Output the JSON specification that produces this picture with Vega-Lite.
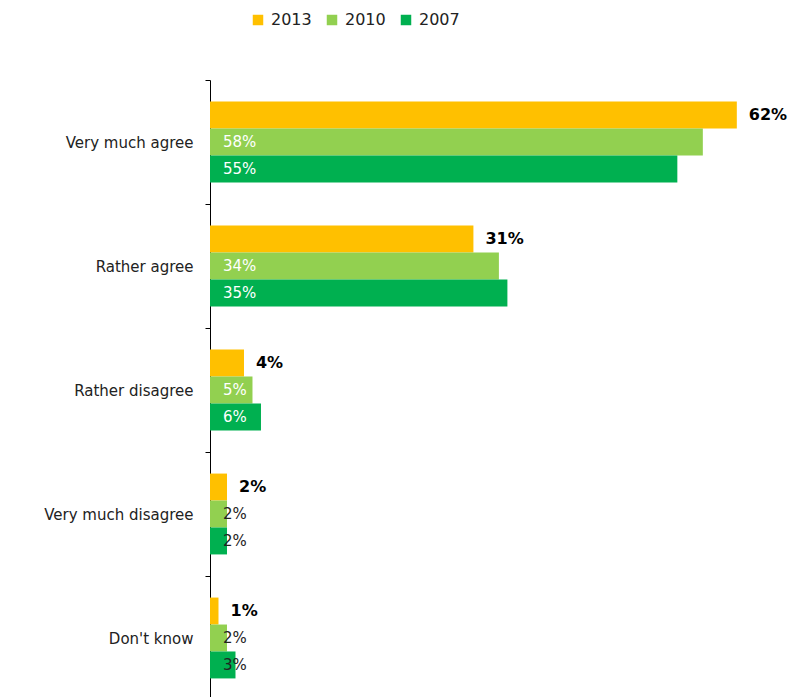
{
  "$schema": "https://vega.github.io/schema/vega-lite/v6.json",
  "autosize": "none",
  "padding": {"left": 210, "top": 80, "right": 0, "bottom": 0},
  "width": 588,
  "height": 620,
  "background": "white",
  "config": {"view": {"stroke": null}, "font": "DejaVu Sans"},
  "data": {
    "values": [
      {"answer": "Very much agree", "year": "2013", "value": 62},
      {"answer": "Very much agree", "year": "2010", "value": 58},
      {"answer": "Very much agree", "year": "2007", "value": 55},
      {"answer": "Rather agree", "year": "2013", "value": 31},
      {"answer": "Rather agree", "year": "2010", "value": 34},
      {"answer": "Rather agree", "year": "2007", "value": 35},
      {"answer": "Rather disagree", "year": "2013", "value": 4},
      {"answer": "Rather disagree", "year": "2010", "value": 5},
      {"answer": "Rather disagree", "year": "2007", "value": 6},
      {"answer": "Very much disagree", "year": "2013", "value": 2},
      {"answer": "Very much disagree", "year": "2010", "value": 2},
      {"answer": "Very much disagree", "year": "2007", "value": 2},
      {"answer": "Don't know", "year": "2013", "value": 1},
      {"answer": "Don't know", "year": "2010", "value": 2},
      {"answer": "Don't know", "year": "2007", "value": 3}
    ]
  },
  "transform": [{"calculate": "datum.value + '%'", "as": "label"}],
  "encoding": {
    "y": {
      "field": "answer", "type": "nominal",
      "sort": ["Very much agree", "Rather agree", "Rather disagree", "Very much disagree", "Don't know"],
      "scale": {"paddingInner": 0, "paddingOuter": 0},
      "axis": {
        "title": null, "tickBand": "extent", "domainColor": "#000", "tickColor": "#000",
        "tickSize": 5, "labelPadding": 12, "labelFontSize": 15, "labelColor": "#222",
        "labelFont": "DejaVu Sans", "domainWidth": 1
      }
    },
    "yOffset": {
      "field": "year", "type": "nominal", "sort": ["2013", "2010", "2007"],
      "scale": {"paddingInner": 0, "paddingOuter": 0.8}
    }
  },
  "layer": [
    {
      "mark": {"type": "bar"},
      "encoding": {
        "x": {"field": "value", "type": "quantitative", "scale": {"domain": [0, 69.2], "nice": false}, "axis": null},
        "color": {
          "field": "year", "type": "nominal",
          "sort": ["2013", "2010", "2007"],
          "scale": {"domain": ["2013", "2010", "2007"], "range": ["#FFC000", "#92D050", "#00B050"]},
          "legend": {
            "title": null, "orient": "none", "direction": "horizontal", "legendX": 40, "legendY": -68,
            "symbolType": "square", "symbolSize": 110, "symbolStrokeWidth": 0, "labelFontSize": 16,
            "labelColor": "#222", "columnPadding": 12, "labelOffset": 5
          }
        }
      }
    },
    {
      "transform": [{"filter": "datum.year == '2013'"}],
      "mark": {"type": "text", "align": "left", "baseline": "middle", "dx": 12, "fontWeight": "bold", "fontSize": 16, "color": "#000"},
      "encoding": {
        "x": {"field": "value", "type": "quantitative"},
        "text": {"field": "label"}
      }
    },
    {
      "transform": [{"filter": "datum.year != '2013'"}],
      "mark": {"type": "text", "align": "left", "baseline": "middle", "dx": 13, "fontSize": 15},
      "encoding": {
        "x": {"datum": 0, "type": "quantitative"},
        "text": {"field": "label"},
        "color": {"condition": {"test": "datum.value > 3", "value": "#ffffff"}, "value": "#222222"}
      }
    }
  ]
}
